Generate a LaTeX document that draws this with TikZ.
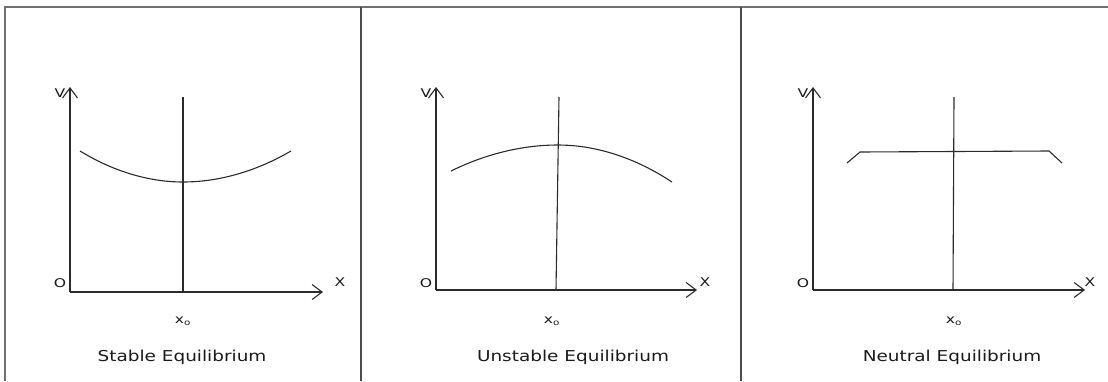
\documentclass[tikz,border=0pt]{standalone}
\usepackage{fontspec}
\setmainfont{DejaVu Sans}
\usetikzlibrary{arrows.meta}
\definecolor{inkline}{HTML}{2B2B2B}
\definecolor{inkframe}{HTML}{707070}
\definecolor{inktext}{HTML}{1A1A1A}

\begin{document}
\begin{tikzpicture}[
  x=1pt, y=-1pt,
  frame/.style={draw=inkframe, line width=1.8pt},
  divider/.style={draw=inkline!85, line width=1.6pt},
  axis/.style={draw=inkline, line width=1.1pt, -{Straight Barb[length=10pt, width=15pt, line width=1.1pt]}},
  curve/.style={draw=inkline, line width=1.1pt},
  eqline/.style={draw=inkline, line width=1.1pt},
  axlabel/.style={font=\fontsize{12}{14}\selectfont, text=inktext, inner sep=0pt, xscale=1.3, transform shape},
  caption/.style={font=\fontsize{15}{18}\selectfont, text=inktext, inner sep=0pt, xscale=1.23, transform shape}
]
\useasboundingbox (0,0) rectangle (1108,381);

% ---- frame and panel dividers ----
\coordinate (tl) at (5,7);
\coordinate (tr) at (1108,7);
\coordinate (bl) at (5,381);
\draw[frame] (bl) -- (tl) -- (tr);
\foreach \i/\x in {1/361, 2/741} {
  \coordinate (divtop\i) at (\x,7);
  \coordinate (divbot\i) at (\x,381);
  \draw[divider] (divtop\i) -- (divbot\i);
}

% ---- axes and their labels, one set per panel ----
\foreach \p/\ox/\oy/\xe/\xl in {1/70/292/323/340, 2/436/290/697/705, 3/813/290/1085/1090} {
  \coordinate (o\p) at (\ox,\oy);
  \coordinate (vtip\p) at (\ox,87);
  \coordinate (xtip\p) at (\xe,\oy);
  \draw[axis] (o\p) -- (vtip\p);
  \draw[axis] (o\p) -- (xtip\p);
  \node[axlabel] (lo\p) at (\ox-10,283) {O};
  \node[axlabel] (lv\p) at (\ox-10,93) {V};
  \node[axlabel] (lx\p) at (\xl,282) {X};
}

% ---- equilibrium position x_o ----
\coordinate (eqtop1) at (183,97);  \coordinate (eqbot1) at (183,292);
\coordinate (eqtop2) at (559,97);  \coordinate (eqbot2) at (556,290);
\coordinate (eqtop3) at (954,97);  \coordinate (eqbot3) at (953,290);
\foreach \p/\x in {1/183, 2/552, 3/954} {
  \draw[eqline] (eqtop\p) -- (eqbot\p);
  \node[axlabel] (xo\p) at (\x,321) {x\textsubscript{o}};
}

% ---- potential curves ----
% stable: minimum at x_o
\coordinate (s1) at (80,151);  \coordinate (s2) at (183,182);  \coordinate (s3) at (291,151);
\draw[curve] (s1) parabola bend (s2) (s3);
% unstable: maximum at x_o
\coordinate (u1) at (451,171);  \coordinate (u2) at (558,145);  \coordinate (u3) at (672,182);
\draw[curve] (u1) parabola bend (u2) (u3);
% neutral: flat, with short drops at the ends
\coordinate (n1) at (847,163);  \coordinate (n2) at (860,152);
\coordinate (n3) at (1049,151); \coordinate (n4) at (1062,163);
\draw[curve] (n1) -- (n2) -- (n3) -- (n4);

% ---- captions ----
\node[caption] (cap1) at (182,357) {Stable Equilibrium};
\node[caption] (cap2) at (573,357) {Unstable Equilibrium};
\node[caption] (cap3) at (952,357) {Neutral Equilibrium};
\end{tikzpicture}
\end{document}
